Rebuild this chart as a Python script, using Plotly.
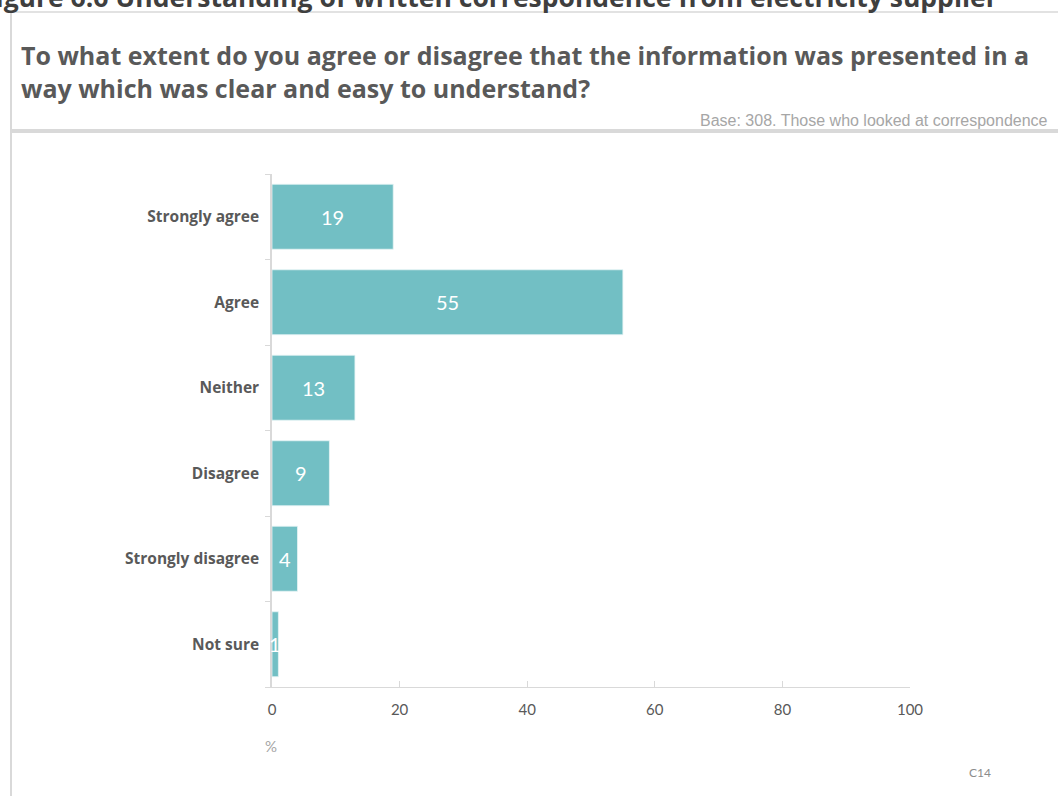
import plotly.graph_objects as go

# Survey responses (%)
categories = ["Strongly agree", "Agree", "Neither", "Disagree", "Strongly disagree", "Not sure"]
values = [19, 55, 13, 9, 4, 1]
x_ticks = [0, 20, 40, 60, 80, 100]

W, H = 1058, 796
L, R, T, B = 272, 148, 174, 109
PW, PH = W - L - R, H - T - B


def px(x):
    return (x - L) / PW


def py(y):
    return (H - B - y) / PH


BAR = "#72bfc4"
DARK = "#595959"

fig = go.Figure()
fig.add_trace(go.Bar(
    y=categories, x=values, orientation="h",
    marker=dict(color=BAR, line=dict(color="#e6f4f5", width=0.8)),
    hoverinfo="x+y", showlegend=False,
))

# value labels centred in each bar
for c, v in zip(categories, values):
    fig.add_annotation(x=v / 2, y=c, xref="x", yref="y", text=str(v),
                       showarrow=False, font=dict(family="Lato", size=20, color="white"))

annotations_paper = [
    dict(x=px(1000), y=py(17), xanchor="right", yanchor="bottom",
         text="<b>Figure 6.6 Understanding of written correspondence from electricity supplier</b>",
         font=dict(family="Open Sans", size=26.5, color="#3f3f3f")),
    dict(x=px(19), y=py(36), xanchor="left", yanchor="top", align="left",
         text="<b>To what extent do you agree or disagree that the information was presented in a<br>"
              "way which was clear and easy to understand?</b>",
         font=dict(family="Open Sans", size=25, color=DARK)),
    dict(x=px(1050), y=py(131), xanchor="right", yanchor="bottom",
         text="Base: 308. Those who looked at correspondence",
         font=dict(family="Liberation Sans", size=16, color="#a6a6a6")),
    dict(x=px(271), y=py(746), xanchor="center", yanchor="middle",
         text="%", font=dict(family="Lato", size=15, color="#a6a6a6")),
    dict(x=px(980), y=py(772), xanchor="center", yanchor="middle",
         text="C14", font=dict(family="Lato", size=12, color="#8c8c8c")),
]
for a in annotations_paper:
    fig.add_annotation(xref="paper", yref="paper", showarrow=False, **a)

frame = "#d9d9d9"
shapes = [
    dict(type="line", x0=px(11), x1=px(11), y0=py(12), y1=py(800), line=dict(color=frame, width=2)),
    dict(type="line", x0=px(10), x1=px(1060), y0=py(12), y1=py(12), line=dict(color=frame, width=1.5)),
    dict(type="line", x0=px(10), x1=px(1060), y0=py(131), y1=py(131), line=dict(color=frame, width=4)),
]
for s in shapes:
    fig.add_shape(xref="paper", yref="paper", layer="below", **s)

fig.update_layout(
    width=W, height=H, margin=dict(l=L, r=R, t=T, b=B),
    paper_bgcolor="white", plot_bgcolor="white",
    bargap=0.24,
    xaxis=dict(range=[0, 100], tickvals=x_ticks, showgrid=False, zeroline=False,
               showline=True, linecolor=frame, linewidth=1,
               ticks="inside", ticklen=6, tickcolor=frame,
               tickfont=dict(family="Lato", size=15, color=DARK), ticklabelstandoff=9),
    yaxis=dict(categoryorder="array", categoryarray=categories[::-1],
               showgrid=False, zeroline=False, showline=True, linecolor=frame, linewidth=1.5,
               ticks="outside", ticklen=5, tickcolor=frame, tickson="boundaries",
               tickfont=dict(family="Open Sans", size=15.5, color=DARK, weight="bold"),
               ticklabelstandoff=8),
)

fig.write_html("out.html")
